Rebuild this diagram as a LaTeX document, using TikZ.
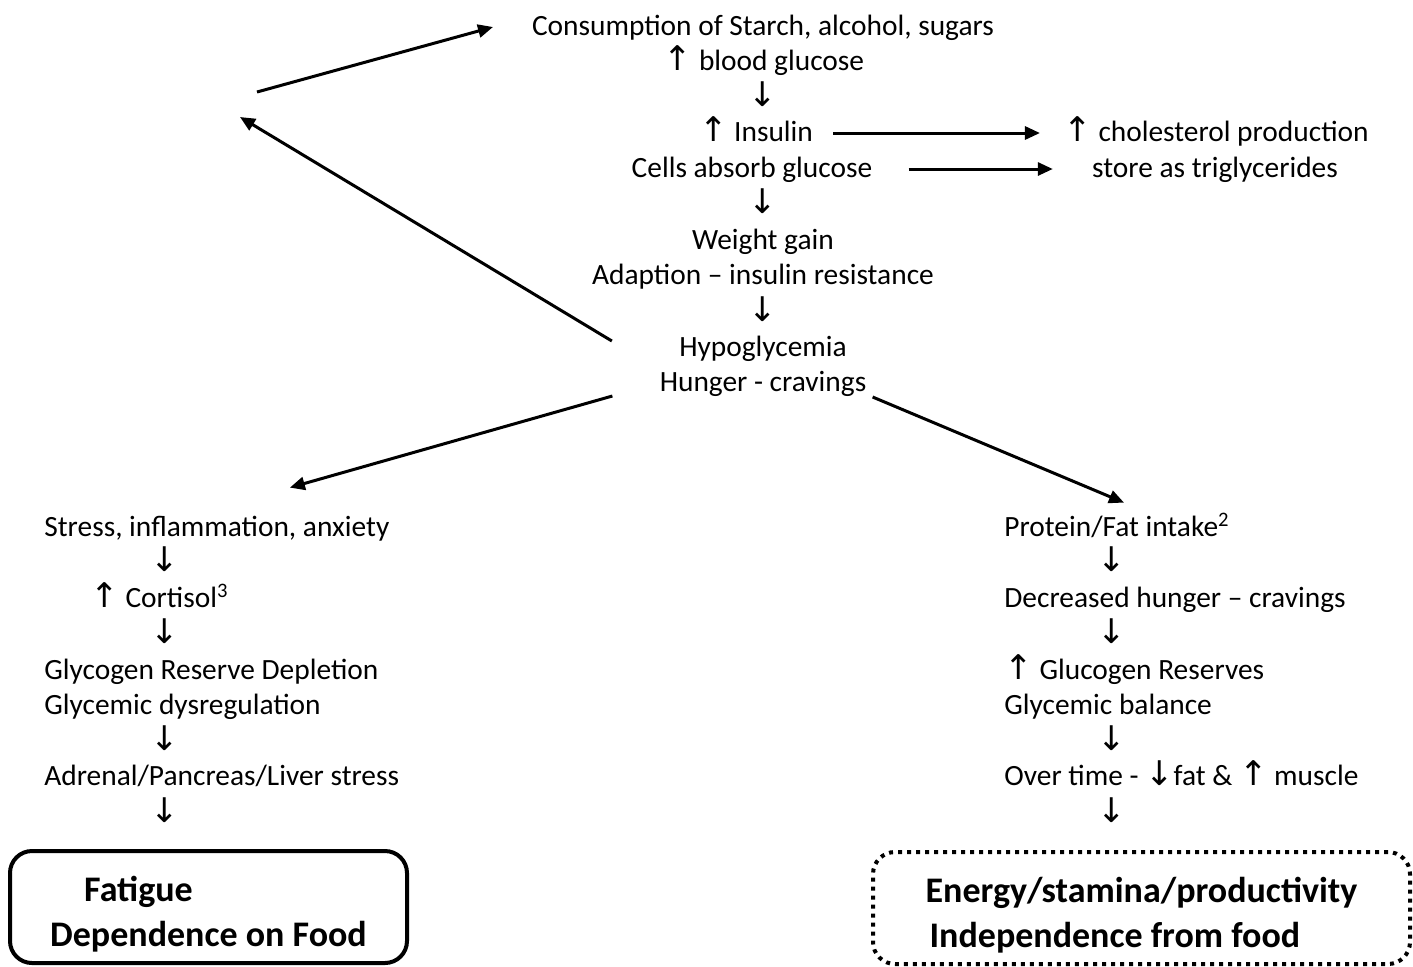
\documentclass[tikz,border=0pt]{standalone}
\usepackage{fontspec}
\setmainfont{Carlito}
\newfontfamily\arrowfont{DejaVu Sans}
\usetikzlibrary{arrows.meta, positioning}
\newcommand{\upar}{{\arrowfont\fontsize{17}{17}\selectfont ↑}}
\newcommand{\dnar}{{\arrowfont\fontsize{17}{17}\selectfont ↓}}

\begin{document}
\begin{tikzpicture}[x=0.5pt, y=-0.5pt,
  txt/.style={inner sep=0pt, font=\fontsize{14.7}{17}\selectfont, text height=14pt, text depth=3.5pt},
  endbox/.style={rounded corners=11pt, line width=2pt, minimum height=56pt, align=left, inner ysep=0pt,
    text height=44pt, text depth=4.5pt, font=\fontsize{18}{22.5}\selectfont\bfseries},
  arr/.style={-{Triangle[length=7.5pt, width=6.5pt]}, line width=1.5pt},
]
  \useasboundingbox (0,0) rectangle (1413,966);

  % main column
  \node[txt] (cons) at (763,25) {Consumption of Starch, alcohol, sugars};
  \node[txt] (bg) at (764,60) {\upar\ blood glucose};
  \node[txt] (d1) at (763,96) {\dnar};
  \node[txt] (ins) at (756,131) {\upar\ Insulin};
  \node[txt] (cells) at (752,167) {Cells absorb glucose};
  \node[txt] (d2) at (763,203) {\dnar};
  \node[txt] (wg) at (763,239) {Weight gain};
  \node[txt] (adapt) at (763,274) {Adaption – insulin resistance};
  \node[txt] (d3) at (763,311) {\dnar};
  \node[txt] (hypo) at (763,346) {Hypoglycemia};
  \node[txt] (hung) at (763,381) {Hunger - cravings};

  % side effects
  \node[txt] (chol) at (1216,131) {\upar\ cholesterol production};
  \node[txt] (trig) at (1215,167) {store as triglycerides};

  % left branch
  \node[txt, anchor=west] (stress) at (44,526) {Stress, inflammation, anxiety};
  \node[txt] (l1) at (165,561) {\dnar};
  \node[txt, anchor=west] (cort) at (90,597) {\upar\ Cortisol\textsuperscript{3}};
  \node[txt] (l2) at (165,633) {\dnar};
  \node[txt, anchor=west] (gly) at (44,669) {Glycogen Reserve Depletion};
  \node[txt, anchor=west] (dysr) at (44,704) {Glycemic dysregulation};
  \node[txt] (l3) at (165,740) {\dnar};
  \node[txt, anchor=west] (adr) at (44,775) {Adrenal/Pancreas/Liver stress};
  \node[txt] (l4) at (165,812) {\dnar};

  % right branch
  \node[txt, anchor=west] (prot) at (1004,526) {Protein/Fat intake\textsuperscript{2}};
  \node[txt] (r1) at (1112,561) {\dnar};
  \node[txt, anchor=west] (decr) at (1004,597) {Decreased hunger – cravings};
  \node[txt] (r2) at (1112,633) {\dnar};
  \node[txt, anchor=west] (glu) at (1004,669) {\upar\ Glucogen Reserves};
  \node[txt, anchor=west] (bal) at (1004,704) {Glycemic balance};
  \node[txt] (r3) at (1112,740) {\dnar};
  \node[txt, anchor=west] (over) at (1004,775) {Over time - \dnar fat \& \upar\ muscle};
  \node[txt] (r4) at (1112,812) {\dnar};

  % outcomes
  \node[endbox, draw, minimum width=198.5pt] (fatig) at (208.5,907)
    {\hspace*{17pt}Fatigue\\Dependence on Food};
  \node[endbox, draw, dash pattern=on 2pt off 2.5pt, minimum width=268.5pt] (energy) at (1141.5,908)
    {Energy/stamina/productivity\\\hspace*{2pt}Independence from food};

  % cycle back
  \coordinate (loopA) at (257,92);
  \coordinate (loopB) at (493,27);
  \coordinate (loopC) at (240,117);
  \draw[arr] (loopA) -- (loopB);
  \draw[arr] ([xshift=-33.5pt, yshift=2.5pt]hypo.west) -- (loopC);

  \draw[arr] ([xshift=10pt, yshift=-1pt]ins.east) -- ([xshift=-11.5pt, yshift=-1pt]chol.west);
  \draw[arr] ([xshift=18pt, yshift=-1pt]cells.east) -- ([xshift=-19.5pt, yshift=-1pt]trig.west);

  \draw[arr] ([xshift=-23.5pt, yshift=-7.5pt]hung.west) -- ([xshift=36.5pt, yshift=10.25pt]stress.north);
  \draw[arr] ([xshift=3pt, yshift=-8pt]hung.east) -- ([xshift=3.5pt, yshift=2.75pt]prot.north);
\end{tikzpicture}
\end{document}
